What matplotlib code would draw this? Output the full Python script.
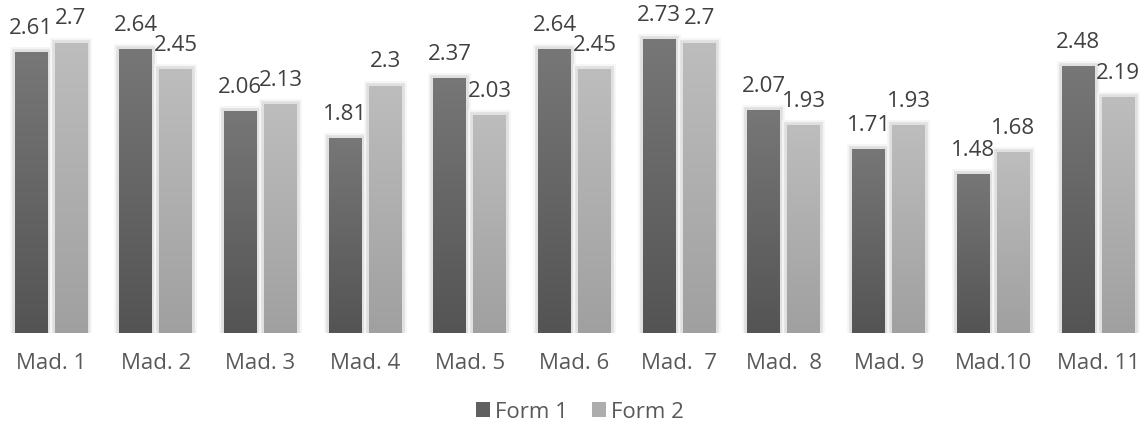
import matplotlib.pyplot as plt
import matplotlib.patheffects as pe
from matplotlib.colors import LinearSegmentedColormap
from matplotlib.patches import Rectangle
import numpy as np

plt.rcParams['font.family'] = ['Open Sans', 'DejaVu Sans']

categories = ['Mad. 1', 'Mad. 2', 'Mad. 3', 'Mad. 4', 'Mad. 5', 'Mad. 6',
              'Mad.  7', 'Mad.  8', 'Mad. 9', 'Mad.10', 'Mad. 11']
form1 = [2.61, 2.64, 2.06, 1.81, 2.37, 2.64, 2.73, 2.07, 1.71, 1.48, 2.48]
form2 = [2.7, 2.45, 2.13, 2.3, 2.03, 2.45, 2.7, 1.93, 1.93, 1.68, 2.19]
series_names = ['Form 1', 'Form 2']

# bottom -> top colours of the vertical gradient in each bar
grad1 = ['#545454', '#777777']
grad2 = ['#a0a0a0', '#bdbdbd']

fig = plt.figure(figsize=(11.41, 4.32), dpi=100)
ax = fig.add_axes([0, 0.229, 1, 0.771])

x = np.arange(len(categories))
w = 0.315
off = 0.191

glow = [pe.Stroke(linewidth=7, foreground='#f5f5f5'),
        pe.Stroke(linewidth=4, foreground='#e0e0e0'),
        pe.Normal()]

def gradient_bars(xs, vals, cols):
    cmap = LinearSegmentedColormap.from_list('g', cols)
    bars = ax.bar(xs, vals, width=w, color=cols[0], linewidth=0, zorder=2)
    grad = np.linspace(0, 1, 256).reshape(-1, 1)
    for b in bars:
        b.set_path_effects(glow)
        bx, by = b.get_x(), b.get_y()
        bw, bh = b.get_width(), b.get_height()
        im = ax.imshow(grad, cmap=cmap, origin='lower', aspect='auto',
                       extent=(bx, bx + bw, by, by + bh), zorder=3)
        clip = Rectangle((bx, by), bw, bh, transform=ax.transData)
        im.set_clip_path(clip)
    return bars

b1 = gradient_bars(x - off, form1, grad1)
b2 = gradient_bars(x + off, form2, grad2)

for bars, vals in ((b1, form1), (b2, form2)):
    for b, v in zip(bars, vals):
        ax.annotate(f'{v:g}', (b.get_x() + b.get_width() / 2, v),
                    xytext=(0, 17), textcoords='offset points',
                    ha='center', va='center', fontsize=16, color='#404040',
                    zorder=5)

ax.set_xlim(-0.487, 10.41)
ax.set_ylim(0, 3.095)
ax.set_xticks(x)
ax.set_xticklabels(categories, fontsize=16, color='#595959')
ax.tick_params(axis='x', length=0, pad=14)
ax.set_yticks([])
for s in ax.spines.values():
    s.set_visible(False)

handles = [Rectangle((0, 0), 1, 1, facecolor='#606060'),
           Rectangle((0, 0), 1, 1, facecolor='#adadad')]
fig.legend(handles, series_names, loc='center', bbox_to_anchor=(0.508, 0.046),
           ncol=2, frameon=False, fontsize=16, handlelength=0.65,
           handleheight=0.65, handletextpad=0.2, columnspacing=1.1,
           labelcolor='#595959')

fig.savefig('out.png', dpi=100)
